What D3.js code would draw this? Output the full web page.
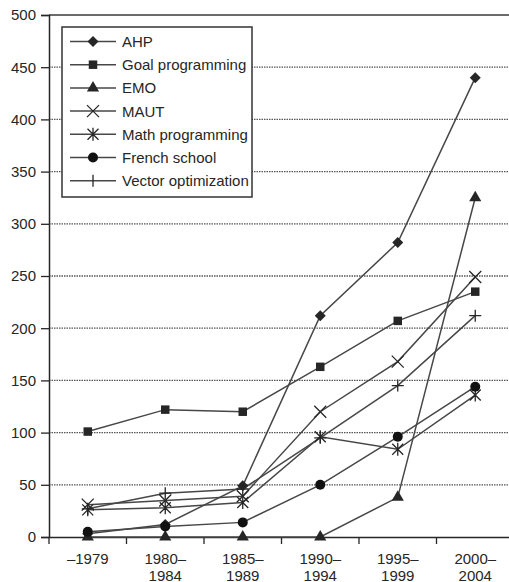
<!DOCTYPE html>
<html><head><meta charset="utf-8">
<script src="https://cdn.jsdelivr.net/npm/d3@7"></script>
<style>
html,body{margin:0;padding:0;background:#fff;}
svg{display:block;font-family:"Liberation Sans",Arial,Helvetica,sans-serif;}
</style></head>
<body><svg id="c" width="509" height="582"></svg>
<script>
const categories = ["-1979","1980-1984","1985-1989","1990-1994","1995-1999","2000-2004"];
const tickLine1 = ["\u20131979","1980\u2013","1985\u2013","1990\u2013","1995\u2013","2000\u2013"];
const tickLine2 = ["","1984","1989","1994","1999","2004"];
const yTicks = [0,50,100,150,200,250,300,350,400,450,500];

const seriesNames = ["AHP","Goal programming","EMO","MAUT","Math programming","French school","Vector optimization"];
const seriesMarkers = ["diamond","square","triangle","x","star","circle","plus"];
const ahp = [3, 12, 49, 212, 282, 440];
const goalProgramming = [101, 122, 120, 163, 207, 235];
const emo = [0, 0, 0, 0, 38, 325];
const maut = [31, 35, 39, 120, 168, 249];
const mathProgramming = [26, 28, 33, 96, 84, 136];
const frenchSchool = [5, 10, 14, 50, 96, 144];
const vectorOptimization = [27, 42, 46, 95, 145, 212];
const seriesValues = [ahp, goalProgramming, emo, maut, mathProgramming, frenchSchool, vectorOptimization];

const svg = d3.select("#c");
const ink = "#262626";
const lineCol = "#474747";

const x = d3.scaleBand().domain(categories).range([49, 514]).padding(0);
const y = d3.scaleLinear().domain([0, 500]).range([537, 15]);

// gridlines
svg.append("g").selectAll("line").data(yTicks.filter(d => d > 0 && d < 500)).join("line")
  .attr("x1", 49).attr("x2", 509)
  .attr("y1", d => y(d)).attr("y2", d => y(d))
  .attr("stroke", "#555").attr("stroke-width", 1.3).attr("stroke-dasharray", "1.5,1");
// top frame
svg.append("line").attr("x1", 49).attr("x2", 509).attr("y1", y(500)).attr("y2", y(500))
  .attr("stroke", "#6a6a6a").attr("stroke-width", 2);

// y axis
const yAxis = svg.append("g").attr("transform", "translate(49,0)")
  .call(d3.axisLeft(y).tickValues(yTicks).tickSize(8).tickPadding(5));
yAxis.select(".domain").attr("stroke", ink).attr("stroke-width", 1.5);
yAxis.selectAll(".tick line").attr("stroke", ink).attr("stroke-width", 1.3);
yAxis.selectAll("text").attr("fill", ink).style("font-size", "15px").attr("font-family", null);

// x axis
const xAxis = svg.append("g").attr("transform", "translate(0,537)")
  .call(d3.axisBottom(x).tickSize(0).tickFormat(() => ""));
xAxis.select(".domain").attr("stroke", ink).attr("stroke-width", 1.5);
xAxis.selectAll(".tick text").remove();
// boundary ticks
const bounds = categories.map(c => x(c));
svg.append("g").selectAll("line").data(bounds).join("line")
  .attr("x1", d => d).attr("x2", d => d).attr("y1", 537).attr("y2", 544)
  .attr("stroke", ink).attr("stroke-width", 1.3);
// labels
const lab = svg.append("g").selectAll("text").data(categories).join("text")
  .attr("text-anchor", "middle").attr("fill", ink).style("font-size", "15px");
lab.append("tspan").attr("x", d => x(d) + x.bandwidth()/2).attr("y", 564)
  .text((d, i) => tickLine1[i]);
lab.append("tspan").attr("x", d => x(d) + x.bandwidth()/2).attr("y", 580.5)
  .text((d, i) => tickLine2[i]);

function drawMarker(g, type, cx, cy) {
  const s = g.append("g").attr("transform", `translate(${cx},${cy})`);
  if (type === "diamond") s.append("path").attr("d", "M0,-5.5L5.5,0L0,5.5L-5.5,0Z").attr("fill", ink);
  else if (type === "square") s.append("path").attr("d", d3.symbol(d3.symbolSquare, 72)()).attr("fill", ink);
  else if (type === "triangle") s.append("path").attr("d", d3.symbol(d3.symbolTriangle, 64)()).attr("fill", ink);
  else if (type === "circle") s.append("circle").attr("r", 5).attr("fill", "#111");
  else if (type === "x") s.append("path").attr("d", "M-6,-6L6,6M-6,6L6,-6").attr("stroke", ink).attr("stroke-width", 1.3);
  else if (type === "star") s.append("path").attr("d", "M-5.5,-5.5L5.5,5.5M-5.5,5.5L5.5,-5.5M0,-6.5L0,6.5").attr("stroke", ink).attr("stroke-width", 1.3);
  else if (type === "plus") s.append("path").attr("d", "M-6,0L6,0M0,-6L0,6").attr("stroke", ink).attr("stroke-width", 1.3);
  else if (type === "vtick") s.append("path").attr("d", "M0,-6L0,6").attr("stroke", ink).attr("stroke-width", 1.3);
}

const line = d3.line().x((d, i) => x(categories[i]) + x.bandwidth()/2).y(d => y(d));
const plot = svg.append("g");
seriesValues.forEach((vals, si) => {
  plot.append("path").attr("d", line(vals)).attr("fill", "none")
    .attr("stroke", lineCol).attr("stroke-width", 1.5);
});
seriesValues.forEach((vals, si) => {
  vals.forEach((v, i) => drawMarker(plot, seriesMarkers[si], x(categories[i]) + x.bandwidth()/2, y(v)));
});

// legend
const lg = svg.append("g");
lg.append("rect").attr("x", 62).attr("y", 27).attr("width", 190).attr("height", 170)
  .attr("fill", "#fff").attr("stroke", "#333").attr("stroke-width", 1.5);
seriesNames.forEach((n, i) => {
  const cy = 41.5 + i * 23.2;
  lg.append("line").attr("x1", 70).attr("x2", 116).attr("y1", cy).attr("y2", cy)
    .attr("stroke", lineCol).attr("stroke-width", 1.5);
  drawMarker(lg, seriesMarkers[i] === "plus" ? "vtick" : seriesMarkers[i], 93, cy);
  lg.append("text").attr("x", 122).attr("y", cy + 5.5).attr("fill", ink)
    .style("font-size", "15px").text(n);
});
</script></body></html>
